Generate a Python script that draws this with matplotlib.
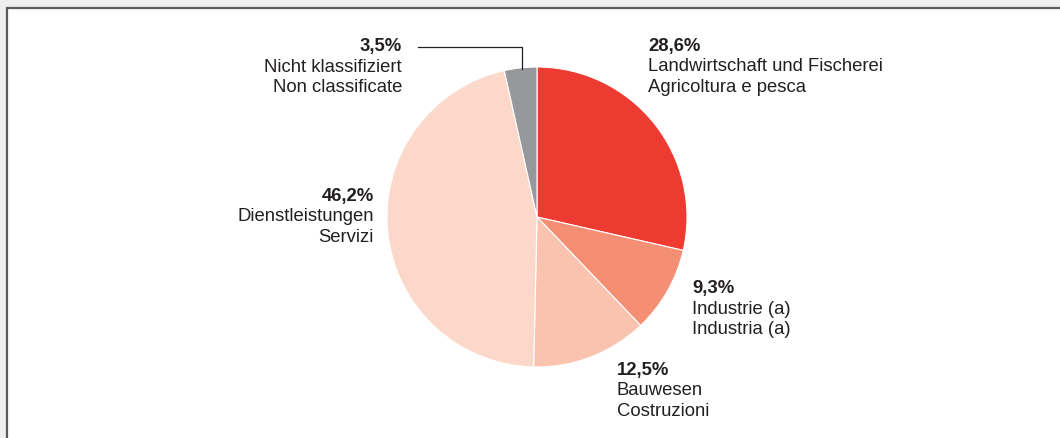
import matplotlib.pyplot as plt
from matplotlib.patches import Rectangle

plt.rcParams['font.family'] = ['Liberation Sans', 'DejaVu Sans']

# Shares by sector (clockwise from the top)
shares = [28.6, 9.3, 12.5, 46.2, 3.5]
pct_labels = ['28,6%', '9,3%', '12,5%', '46,2%', '3,5%']
names_de = ['Landwirtschaft und Fischerei', 'Industrie (a)', 'Bauwesen',
            'Dienstleistungen', 'Nicht klassifiziert']
names_it = ['Agricoltura e pesca', 'Industria (a)', 'Costruzioni',
            'Servizi', 'Non classificate']
colors = ['#ee3b32', '#f58f74', '#f9c3b0', '#fbd8c9', '#97989b']

# label anchor (pixel x, pixel y of first line) and alignment
label_pos = [(648, 46, 'left'), (692, 289, 'left'), (617, 370, 'left'),
             (374, 196, 'right'), (402, 47, 'right')]

W, H = 1060, 438
fig = plt.figure(figsize=(W / 100, H / 100), dpi=100)
fig.patch.set_facecolor('#eeeeee')

# white panel with grey frame, running off the right and bottom edges
fig.patches.append(Rectangle((7 / W, -0.05), 1.1, (H - 8) / H + 0.05,
                             transform=fig.transFigure, facecolor='white',
                             edgecolor='#5a5a5a', linewidth=1.6, zorder=-5))

ax = fig.add_axes([0, 0, 1, 1])
ax.set_zorder(1)
ax.patch.set_visible(False)

cx, cy, r = 537, H - 217, 150
ax.pie(shares, colors=colors, startangle=90, counterclock=False,
       center=(cx, cy), radius=r, frame=True,
       wedgeprops={'edgecolor': 'white', 'linewidth': 0.8})
ax.set_xlim(0, W)
ax.set_ylim(0, H)
ax.set_aspect('equal')
ax.axis('off')

line_gap = 20.5
for (x, y, ha), p, de, it in zip(label_pos, pct_labels, names_de, names_it):
    for i, (txt, w) in enumerate([(p, 'bold'), (de, 'normal'), (it, 'normal')]):
        ax.text(x, H - (y + i * line_gap), txt, ha=ha, va='center',
                fontsize=13.3, fontweight=w, color='#231f20')

# leader line for the small grey slice
ax.plot([418, 522, 522], [H - 47, H - 47, H - 69], color='#231f20', lw=0.9)

fig.savefig('out.png', dpi=100, facecolor=fig.get_facecolor())
